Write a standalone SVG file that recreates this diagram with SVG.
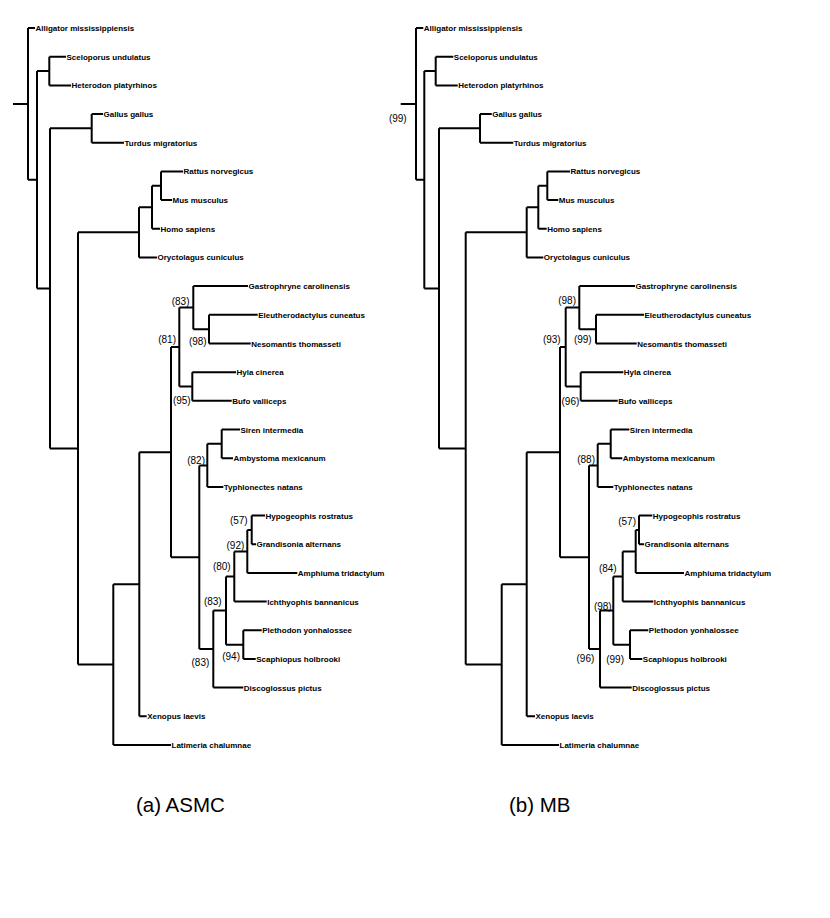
<svg xmlns="http://www.w3.org/2000/svg" width="830" height="918" viewBox="0 0 830 918">
<style>
.br{fill:none;stroke:#000;stroke-width:2;stroke-linejoin:miter;stroke-linecap:butt}
.lf{font-family:"Liberation Sans",Arial,Helvetica,sans-serif;font-size:8px;font-weight:bold;fill:#000}
.bs{font-family:"Liberation Sans",Arial,Helvetica,sans-serif;font-size:10px;fill:#000;text-anchor:end}
.cap{font-family:"Liberation Sans",Arial,Helvetica,sans-serif;font-size:20.5px;fill:#000}
</style>
<rect width="830" height="918" fill="#fff"/>
<g id="connectors">
<g id="tree-a-branches" class="br">
<path d="M13 103.9H28M28 28V179.7M28 28H35M28 179.7H37"/>
<path d="M37 71.05V288.4M37 71.05H49.3M37 288.4H50"/>
<path d="M49.3 56.7V85.4M49.3 56.7H66M49.3 85.4H71"/>
<path d="M50 128.35V448.5M50 128.35H91.7M50 448.5H78"/>
<path d="M91.7 114V142.7M91.7 114H103M91.7 142.7H124"/>
<path d="M78 232.35V664.6M78 232.35H139M78 664.6H113.3"/>
<path d="M139 207.3V257.4M139 207.3H152M139 257.4H157"/>
<path d="M152 185.75V228.8M152 185.75H161M152 228.8H160"/>
<path d="M161 171.4V200.1M161 171.4H183M161 200.1H172"/>
<path d="M113.3 584.2V745M113.3 584.2H139.3M113.3 745H171"/>
<path d="M139.3 452.15V716.3M139.3 452.15H171M139.3 716.3H146.7"/>
<path d="M171 347.05V557.25M171 347.05H179.3M171 557.25H199.3"/>
<path d="M179.3 307.6V386.5M179.3 307.6H193.3M179.3 386.5H192.3"/>
<path d="M193.3 286.1V329.15M193.3 286.1H248M193.3 329.15H209"/>
<path d="M209 314.8V343.5M209 314.8H257.7M209 343.5H250.7"/>
<path d="M192.3 372.2V400.8M192.3 372.2H236M192.3 400.8H231.7"/>
<path d="M199.3 465.4V649.1M199.3 465.4H207.3M199.3 649.1H213.3"/>
<path d="M207.3 443.85V486.9M207.3 443.85H221.7M207.3 486.9H223.3"/>
<path d="M221.7 429.5V458.2M221.7 429.5H240M221.7 458.2H233"/>
<path d="M213.3 610.6V687.6M213.3 610.6H226M213.3 687.6H243.3"/>
<path d="M226 576.5V644.65M226 576.5H234.3M226 644.65H243.3"/>
<path d="M243.3 630.3V659M243.3 630.3H261.7M243.3 659H255.7"/>
<path d="M234.3 551.4V601.6M234.3 551.4H247.3M234.3 601.6H266.7"/>
<path d="M247.3 529.9V572.9M247.3 529.9H251.7M247.3 572.9H297.3"/>
<path d="M251.7 515.6V544.2M251.7 515.6H265M251.7 544.2H256"/>
</g>
<g id="tree-b-branches" class="br">
<path d="M400.7 103.9H416M416 28V179.7M416 28H423.3M416 179.7H424.3"/>
<path d="M424.3 71.05V288.4M424.3 71.05H435.7M424.3 288.4H439"/>
<path d="M435.7 56.7V85.4M435.7 56.7H453.3M435.7 85.4H457.7"/>
<path d="M439 128.35V448.5M439 128.35H480M439 448.5H465.7"/>
<path d="M480 114V142.7M480 114H491.7M480 142.7H513.3"/>
<path d="M465.7 232.35V664.6M465.7 232.35H526.7M465.7 664.6H501.7"/>
<path d="M526.7 207.3V257.4M526.7 207.3H538.3M526.7 257.4H543.3"/>
<path d="M538.3 185.75V228.8M538.3 185.75H547.3M538.3 228.8H546.7"/>
<path d="M547.3 171.4V200.1M547.3 171.4H570M547.3 200.1H558.3"/>
<path d="M501.7 584.2V745M501.7 584.2H526.7M501.7 745H559"/>
<path d="M526.7 452.15V716.3M526.7 452.15H560M526.7 716.3H535"/>
<path d="M560 347.05V557.25M560 347.05H565.7M560 557.25H589"/>
<path d="M565.7 307.6V386.5M565.7 307.6H579.3M565.7 386.5H580.7"/>
<path d="M579.3 286.1V329.15M579.3 286.1H635M579.3 329.15H596"/>
<path d="M596 314.8V343.5M596 314.8H644M596 343.5H636.7"/>
<path d="M580.7 372.2V400.8M580.7 372.2H623.3M580.7 400.8H617.7"/>
<path d="M589 465.4V649.1M589 465.4H597.7M589 649.1H600"/>
<path d="M597.7 443.85V486.9M597.7 443.85H610.7M597.7 486.9H613.3"/>
<path d="M610.7 429.5V458.2M610.7 429.5H629.3M610.7 458.2H622.3"/>
<path d="M600 610.6V687.6M600 610.6H613.3M600 687.6H631.7"/>
<path d="M613.3 576.5V644.65M613.3 576.5H622.7M613.3 644.65H630"/>
<path d="M630 630.3V659M630 630.3H648.3M630 659H642.3"/>
<path d="M622.7 551.4V601.6M622.7 551.4H635.7M622.7 601.6H653.3"/>
<path d="M635.7 529.9V572.9M635.7 529.9H639M635.7 572.9H684"/>
<path d="M639 515.6V544.2M639 515.6H652.3M639 544.2H644"/>
</g>
</g>
<g id="tree-a-leaves" class="lf">
<g id="a-alligator"><text x="35.5" y="31">Alligator mississippiensis</text></g>
<g id="a-sceloporus"><text x="66.5" y="59.7">Sceloporus undulatus</text></g>
<g id="a-heterodon"><text x="71.5" y="88.4">Heterodon platyrhinos</text></g>
<g id="a-gallus"><text x="103.5" y="117">Gallus gallus</text></g>
<g id="a-turdus"><text x="124.5" y="145.7">Turdus migratorius</text></g>
<g id="a-rattus"><text x="183.5" y="174.4">Rattus norvegicus</text></g>
<g id="a-mus"><text x="172.5" y="203.1">Mus musculus</text></g>
<g id="a-homo"><text x="160.5" y="231.8">Homo sapiens</text></g>
<g id="a-oryctolagus"><text x="157.5" y="260.4">Oryctolagus cuniculus</text></g>
<g id="a-gastrophryne"><text x="248.5" y="289.1">Gastrophryne carolinensis</text></g>
<g id="a-eleutherodactylus"><text x="258.2" y="317.8">Eleutherodactylus cuneatus</text></g>
<g id="a-nesomantis"><text x="251.2" y="346.5">Nesomantis thomasseti</text></g>
<g id="a-hyla"><text x="236.5" y="375.2">Hyla cinerea</text></g>
<g id="a-bufo"><text x="232.2" y="403.8">Bufo valliceps</text></g>
<g id="a-siren"><text x="240.5" y="432.5">Siren intermedia</text></g>
<g id="a-ambystoma"><text x="233.5" y="461.2">Ambystoma mexicanum</text></g>
<g id="a-typhlonectes"><text x="223.8" y="489.9">Typhlonectes natans</text></g>
<g id="a-hypogeophis"><text x="265.5" y="518.6">Hypogeophis rostratus</text></g>
<g id="a-grandisonia"><text x="256.5" y="547.2">Grandisonia alternans</text></g>
<g id="a-amphiuma"><text x="297.8" y="575.9">Amphiuma tridactylum</text></g>
<g id="a-ichthyophis"><text x="267.2" y="604.6">Ichthyophis bannanicus</text></g>
<g id="a-plethodon"><text x="262.2" y="633.3">Plethodon yonhalossee</text></g>
<g id="a-scaphiopus"><text x="256.2" y="662">Scaphiopus holbrooki</text></g>
<g id="a-discoglossus"><text x="243.8" y="690.6">Discoglossus pictus</text></g>
<g id="a-xenopus"><text x="147.2" y="719.3">Xenopus laevis</text></g>
<g id="a-latimeria"><text x="171.5" y="748">Latimeria chalumnae</text></g>
</g>
<g id="tree-a-support" class="bs">
<g id="a-s1"><text x="189.5" y="304.6">(83)</text></g>
<g id="a-s2"><text x="206.7" y="344.6">(98)</text></g>
<g id="a-s3"><text x="176" y="342.6">(81)</text></g>
<g id="a-s4"><text x="190.7" y="404.3">(95)</text></g>
<g id="a-s5"><text x="205" y="463.6">(82)</text></g>
<g id="a-s6"><text x="247.7" y="524.3">(57)</text></g>
<g id="a-s7"><text x="244.3" y="548.6">(92)</text></g>
<g id="a-s8"><text x="230.7" y="569.6">(80)</text></g>
<g id="a-s9"><text x="221.7" y="605.3">(83)</text></g>
<g id="a-s10"><text x="240" y="660.3">(94)</text></g>
<g id="a-s11"><text x="209.3" y="666.3">(83)</text></g>
</g>
<g id="tree-b-leaves" class="lf">
<g id="b-alligator"><text x="423.8" y="31">Alligator mississippiensis</text></g>
<g id="b-sceloporus"><text x="453.8" y="59.7">Sceloporus undulatus</text></g>
<g id="b-heterodon"><text x="458.2" y="88.4">Heterodon platyrhinos</text></g>
<g id="b-gallus"><text x="492.2" y="117">Gallus gallus</text></g>
<g id="b-turdus"><text x="513.8" y="145.7">Turdus migratorius</text></g>
<g id="b-rattus"><text x="570.5" y="174.4">Rattus norvegicus</text></g>
<g id="b-mus"><text x="558.8" y="203.1">Mus musculus</text></g>
<g id="b-homo"><text x="547.2" y="231.8">Homo sapiens</text></g>
<g id="b-oryctolagus"><text x="543.8" y="260.4">Oryctolagus cuniculus</text></g>
<g id="b-gastrophryne"><text x="635.5" y="289.1">Gastrophryne carolinensis</text></g>
<g id="b-eleutherodactylus"><text x="644.5" y="317.8">Eleutherodactylus cuneatus</text></g>
<g id="b-nesomantis"><text x="637.2" y="346.5">Nesomantis thomasseti</text></g>
<g id="b-hyla"><text x="623.8" y="375.2">Hyla cinerea</text></g>
<g id="b-bufo"><text x="618.2" y="403.8">Bufo valliceps</text></g>
<g id="b-siren"><text x="629.8" y="432.5">Siren intermedia</text></g>
<g id="b-ambystoma"><text x="622.8" y="461.2">Ambystoma mexicanum</text></g>
<g id="b-typhlonectes"><text x="613.8" y="489.9">Typhlonectes natans</text></g>
<g id="b-hypogeophis"><text x="652.8" y="518.6">Hypogeophis rostratus</text></g>
<g id="b-grandisonia"><text x="644.5" y="547.2">Grandisonia alternans</text></g>
<g id="b-amphiuma"><text x="684.5" y="575.9">Amphiuma tridactylum</text></g>
<g id="b-ichthyophis"><text x="653.8" y="604.6">Ichthyophis bannanicus</text></g>
<g id="b-plethodon"><text x="648.8" y="633.3">Plethodon yonhalossee</text></g>
<g id="b-scaphiopus"><text x="642.8" y="662">Scaphiopus holbrooki</text></g>
<g id="b-discoglossus"><text x="632.2" y="690.6">Discoglossus pictus</text></g>
<g id="b-xenopus"><text x="535.5" y="719.3">Xenopus laevis</text></g>
<g id="b-latimeria"><text x="559.5" y="748">Latimeria chalumnae</text></g>
</g>
<g id="tree-b-support" class="bs">
<g id="b-s0"><text x="406.7" y="121.9">(99)</text></g>
<g id="b-s1"><text x="576" y="303.6">(98)</text></g>
<g id="b-s2"><text x="591.7" y="342.9">(99)</text></g>
<g id="b-s3"><text x="560.7" y="342.9">(93)</text></g>
<g id="b-s4"><text x="579.3" y="405.3">(96)</text></g>
<g id="b-s5"><text x="595" y="462.9">(88)</text></g>
<g id="b-s6"><text x="636" y="525.3">(57)</text></g>
<g id="b-s7"><text x="616.7" y="571.9">(84)</text></g>
<g id="b-s8"><text x="611.7" y="609.6">(98)</text></g>
<g id="b-s9"><text x="594.3" y="661.9">(96)</text></g>
<g id="b-s10"><text x="624" y="662.6">(99)</text></g>
</g>
<g id="captions" class="cap">
<g id="caption-a"><text x="136" y="812">(a) ASMC</text></g>
<g id="caption-b"><text x="509" y="812">(b) MB</text></g>
</g>
</svg>
